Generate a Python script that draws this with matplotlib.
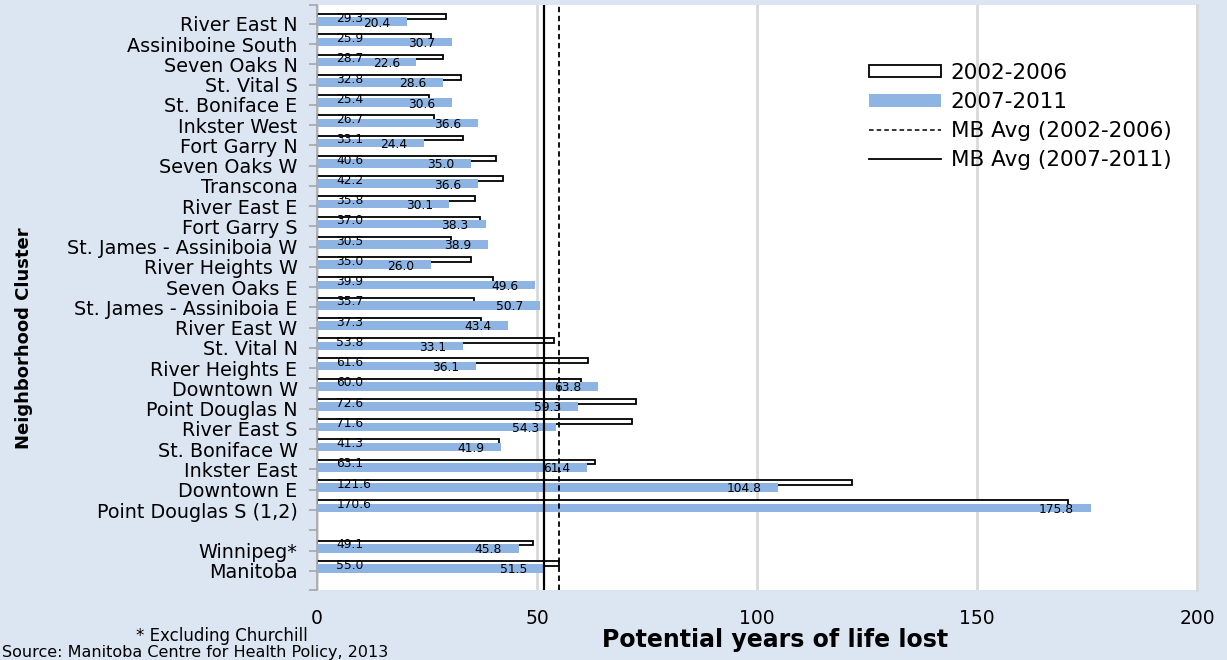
import numpy as np
import matplotlib.pyplot as plt
from matplotlib.lines import Line2D
from matplotlib.patches import Patch

# ----- DATA ----- #

clusters = ['River East N', 'Assiniboine South', 'Seven Oaks N', 'St. Vital S', 'St. Boniface E',
            'Inkster West', 'Fort Garry N', 'Seven Oaks W', 'Transcona', 'River East E',
            'Fort Garry S', 'St. James - Assiniboia W', 'River Heights W', 'Seven Oaks E',
            'St. James - Assiniboia E', 'River East W', 'St. Vital N', 'River Heights E',
            'Downtown W', 'Point Douglas N', 'River East S', 'St. Boniface W', 'Inkster East',
            'Downtown E', 'Point Douglas S (1,2)', '', 'Winnipeg*', 'Manitoba']

pyll_0206 = [29.3, 25.9, 28.7, 32.8, 25.4, 26.7, 33.1, 40.6, 42.2, 35.8, 37.0, 30.5, 35.0, 39.9,
             35.7, 37.3, 53.8, 61.6, 60.0, 72.6, 71.6, 41.3, 63.1, 121.6, 170.6, np.nan, 49.1, 55.0]
pyll_0711 = [20.4, 30.7, 22.6, 28.6, 30.6, 36.6, 24.4, 35.0, 36.6, 30.1, 38.3, 38.9, 26.0, 49.6,
             50.7, 43.4, 33.1, 36.1, 63.8, 59.3, 54.3, 41.9, 61.4, 104.8, 175.8, np.nan, 45.8, 51.5]

mb_avg_0206 = 55.0      # MB Avg (2002-2006)
mb_avg_0711 = 51.5      # MB Avg (2007-2011)

x_ticks = [0, 50, 100, 150, 200]

# ----- STYLE ----- #

bg = '#DCE6F2'
blue = '#8DB4E2'
grid_c = '#D9D9D9'
spine_c = '#A6A6A6'

plt.rcParams['font.family'] = ['DejaVu Sans']

fig = plt.figure(figsize=(12.27, 6.6), dpi=100, facecolor=bg)
ax = fig.add_axes([317/1227, 1 - 590/660, 880/1227, (590 - 4.7)/660])
ax.set_facecolor('white')

y = np.arange(len(clusters))
v0 = np.array(pyll_0206)
v1 = np.array(pyll_0711)
ok = ~np.isnan(v0)

ax.barh(y[ok] - 0.37, v0[ok], height=0.24, color='white', edgecolor='black', linewidth=1.3, zorder=2)
ax.barh(y[ok] - 0.11, v1[ok], height=0.42, color=blue, linewidth=0, zorder=3)

ax.axvline(mb_avg_0206, color='black', linewidth=1.3, linestyle=(0, (3, 2)), zorder=4)
ax.axvline(mb_avg_0711, color='black', linewidth=1.6, zorder=4)

# data labels
for yi, a, b in zip(y[ok], v0[ok], v1[ok]):
    ax.annotate(f'{a:.1f}', xy=(0, yi - 0.28), xytext=(14, 0), textcoords='offset points',
                ha='left', va='center', fontsize=8.8, zorder=5)
    ax.annotate(f'{b:.1f}', xy=(b, yi - 0.04), xytext=(-12, 0), textcoords='offset points',
                ha='right', va='center', fontsize=8.8, zorder=5)

# axes
ax.set_xlim(0, 200)
ax.set_ylim(27.95, -0.95)
ax.set_xticks(x_ticks)
ax.set_xticklabels([str(t) for t in x_ticks], fontsize=13.5)
ax.tick_params(axis='x', length=0, pad=14)
ax.set_yticks(y)
ax.set_yticklabels(clusters, fontsize=13.8)
ax.set_yticks([-0.95, 27.95], minor=True)
ax.tick_params(axis='y', which='both', direction='out', length=6, color=spine_c, width=1.2, pad=8)
ax.grid(axis='x', color=grid_c, linewidth=2, zorder=0)
ax.set_axisbelow(True)
for s in ['top', 'bottom']:
    ax.spines[s].set_visible(False)
ax.spines['left'].set_color(spine_c)
ax.spines['left'].set_linewidth(1.2)
ax.spines['right'].set_color(grid_c)
ax.spines['right'].set_linewidth(2)

# legend
handles = [Patch(facecolor='white', edgecolor='black', linewidth=1.3),
           Patch(facecolor=blue, edgecolor='none'),
           Line2D([], [], color='black', linewidth=1.1, linestyle=(0, (3, 2))),
           Line2D([], [], color='black', linewidth=1.3)]
labels = ['2002-2006', '2007-2011', 'MB Avg (2002-2006)', 'MB Avg (2007-2011)']
fig.legend(handles, labels, loc='upper left', bbox_to_anchor=(869/1227, 1 - 63/660),
           frameon=False, fontsize=15.5, handlelength=3.35, handleheight=0.5,
           handletextpad=0.45, labelspacing=0.42, borderpad=0, borderaxespad=0)

# titles and notes
fig.text(24/1227, 1 - 338/660, 'Neighborhood Cluster', rotation=90, ha='center', va='center',
         fontsize=13, fontweight='bold')
fig.text(775/1227, 1 - 640/660, 'Potential years of life lost', ha='center', va='center',
         fontsize=17, fontweight='bold')
fig.text(222/1227, 1 - 636/660, '* Excluding Churchill', ha='center', va='center', fontsize=12)
fig.text(2/1227, 1 - 653/660, 'Source: Manitoba Centre for Health Policy, 2013',
         ha='left', va='center', fontsize=11.5)

fig.savefig('out.png', dpi=100, facecolor=bg)
